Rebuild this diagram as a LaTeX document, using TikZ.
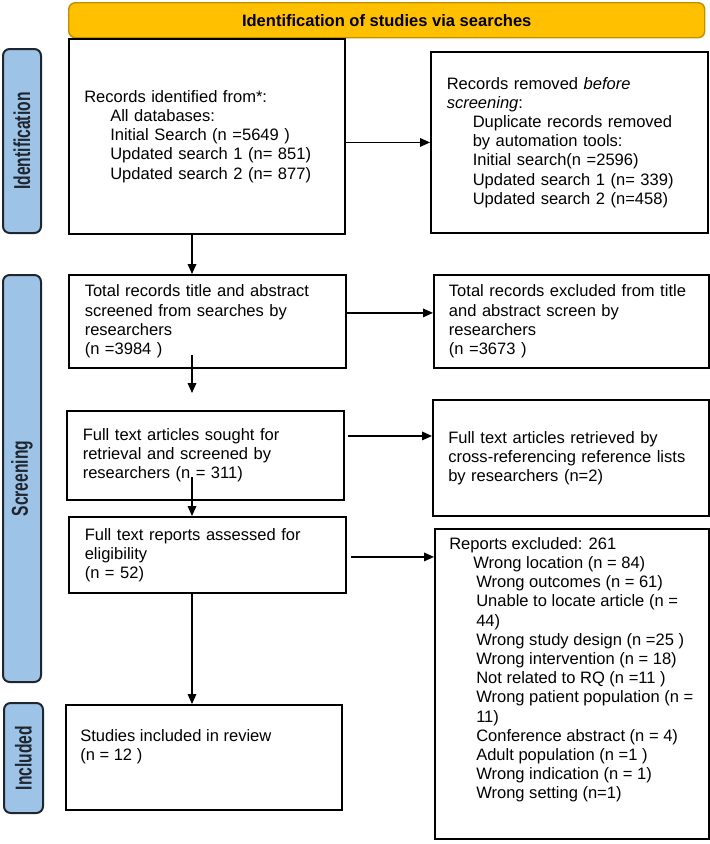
\documentclass[tikz,border=0pt]{standalone}
\usepackage{fontspec}
\usepackage{graphicx}
\setmainfont{Liberation Sans}
\usetikzlibrary{arrows.meta}
\definecolor{bannerfill}{HTML}{FFC000}
\definecolor{bannerdraw}{HTML}{BF9000}
\definecolor{lblfill}{HTML}{9DC3E6}
\definecolor{lbldraw}{HTML}{1F2630}
\newcommand{\bodyfont}{\fontsize{12.4pt}{14.4pt}\selectfont}
\newcommand{\lbltext}[1]{\rotatebox{90}{\scalebox{0.68}[1]{\fontsize{17.25pt}{20pt}\selectfont\bfseries #1}}}
\newcommand{\ind}{\hspace*{19.5pt}}
\begin{document}
\begin{tikzpicture}[x=0.75pt,y=-0.75pt,
  box/.style={draw=black, line width=1.4pt, fill=white, anchor=north west,
    inner xsep=11.25pt, inner ysep=0pt, text width=184pt, align=left, font=\bodyfont},
  emptybox/.style={draw=black, line width=1.4pt, fill=white, anchor=north west, inner sep=0pt},
  txt/.style={inner sep=0pt, align=left, font=\bodyfont, anchor=north west},
  lbl/.style={draw=lbldraw, fill=lblfill, line width=1.5pt, rounded corners=5pt,
    anchor=north west, inner sep=0pt, text=lbldraw},
  banner/.style={draw=bannerdraw, fill=bannerfill, line width=1.1pt, rounded corners=5pt,
    anchor=north west, inner sep=0pt, font=\fontsize{12.4pt}{14pt}\selectfont\bfseries},
  arr/.style={-{Triangle[length=7.5pt,width=6.5pt]}, line width=0.9pt}
]
\useasboundingbox (0,0) rectangle (710,844);

% banner
\node[banner, minimum width=477pt, minimum height=26.25pt] (ban) at (68,2) {Identification of studies via searches};

% side labels
\node[lbl, minimum width=28.5pt, minimum height=138pt] (L1) at (2,48) {\lbltext{Identification}};
\node[lbl, minimum width=28.5pt, minimum height=305.25pt] (L2) at (2,274) {\lbltext{Screening}};
\node[lbl, minimum width=29.25pt, minimum height=82.5pt] (L3) at (3,702) {\lbltext{Included}};

% boxes
\node[box, minimum width=207pt, minimum height=146.25pt] (A) at (68,38) {Records identified from*:\\
\ind All databases:\\
\ind Initial Search (n =5649 )\\
\ind Updated search 1 (n= 851)\\
\ind Updated search 2 (n= 877)};

\node[box, minimum width=207.75pt, minimum height=135.75pt] (B) at (430,51) {Records removed \textit{before}\\
\textit{screening}:\\
\ind Duplicate records removed\\
\ind by automation tools:\\
\ind Initial search(n =2596)\\
\ind Updated search 1 (n= 339)\\
\ind Updated search 2 (n=458)};

\node[box, minimum width=207.75pt, minimum height=69.75pt] (C) at (68,274) {Total records title and abstract\\
screened from searches by\\
researchers\\
(n =3984 )};

\node[box, minimum width=206.25pt, minimum height=69.75pt] (D) at (433,274) {Total records excluded from title\\
and abstract screen by\\
researchers\\
(n =3673 )};

\node[box, minimum width=207.75pt, minimum height=66.75pt] (E) at (66,410) {Full text articles sought for\\
retrieval and screened by\\
researchers (n = 311)};

\node[box, minimum width=207pt, minimum height=87pt] (F) at (432,399) {Full text articles retrieved by\\
cross-referencing reference lists\\
by researchers (n=2)};

\node[box, minimum width=207.75pt, minimum height=57pt] (G) at (68,516) {Full text reports assessed for\\
eligibility\\
(n = 52)};

\node[emptybox, minimum width=205.5pt, minimum height=232.5pt] (H) at (434,528) {};
\node[txt] (Ht) at (449,537) {Reports excluded: 261\\
\hspace*{18pt}Wrong location (n = 84)\\
\hspace*{20.25pt}Wrong outcomes (n = 61)\\
\hspace*{20.25pt}Unable to locate article (n =\\
\hspace*{20.25pt}44)\\
\hspace*{20.25pt}Wrong study design (n =25 )\\
\hspace*{20.25pt}Wrong intervention (n = 18)\\
\hspace*{20.25pt}Not related to RQ (n =11 )\\
\hspace*{20.25pt}Wrong patient population (n =\\
\hspace*{20.25pt}11)\\
\hspace*{20.25pt}Conference abstract (n = 4)\\
\hspace*{20.25pt}Adult population (n =1 )\\
\hspace*{20.25pt}Wrong indication (n = 1)\\
\hspace*{20.25pt}Wrong setting (n=1)};

\node[emptybox, minimum width=207pt, minimum height=78.75pt] (I) at (65,704) {};
\node[txt] (It) at (80,729) {Studies included in review\\
(n = 12 )};

% arrow column
\coordinate (ax) at (192,0);

% horizontal arrows
\draw[arr] (A.east |- B.west) -- (B.west);
\draw[arr] ([yshift=6.4pt]C.east) -- ([yshift=6.4pt]C.east -| D.west);
\draw[arr] ([xshift=2pt,yshift=14.6pt]E.east) -- ([yshift=14.6pt]E.east -| F.west);
\draw[arr] ([xshift=3pt,yshift=-1.5pt]G.east) -- ([yshift=-1.5pt]G.east -| H.west);

% vertical arrows
\draw[arr] (A.south -| ax) -- (C.north -| ax);
\draw[arr] ([yshift=10.5pt]C.south -| ax) -- ([yshift=12.75pt]E.north -| ax);
\draw[arr] ([yshift=18pt]E.south -| ax) -- (G.north -| ax);
\draw[arr] (G.south -| ax) -- (I.north -| ax);
\end{tikzpicture}
\end{document}
